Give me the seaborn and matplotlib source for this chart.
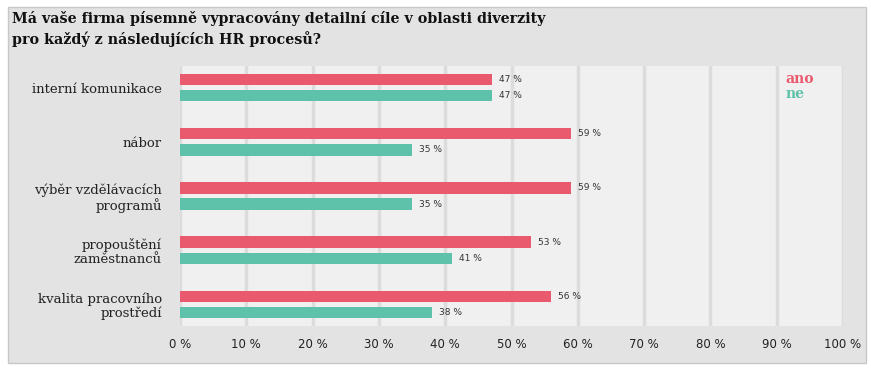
import numpy as np
import pandas as pd
import seaborn as sns
import matplotlib.pyplot as plt
from matplotlib.patches import Rectangle

categories = ["interní komunikace", "nábor", "výběr vzdělávacích\nprogramů",
              "propouštění\nzaměstnanců", "kvalita pracovního\nprostředí"]
ano = [47, 59, 59, 53, 56]
ne = [47, 35, 35, 41, 38]
series = ["ano", "ne"]
colors = ["#ea5a6e", "#5dc2a9"]
ticks = [0, 10, 20, 30, 40, 50, 60, 70, 80, 90, 100]

df = pd.DataFrame({
    "kategorie": categories * 2,
    "odpoved": ["ano"] * len(ano) + ["ne"] * len(ne),
    "hodnota": ano + ne,
})

sns.set_style("white")
plt.rcParams["font.family"] = ["DejaVu Sans"]

fig = plt.figure(figsize=(8.71, 3.71), dpi=100)
fig.patch.set_facecolor("white")
# gray panel behind everything
panel = Rectangle((8 / 871, 1 - 363 / 371), 858 / 871, 356 / 371,
                  transform=fig.transFigure, facecolor="#e3e3e3",
                  edgecolor="#c8c8c8", linewidth=1)
panel.set_zorder(-10)
fig.add_artist(panel)

ax = fig.add_axes([180 / 871, 1 - 326 / 371, 663 / 871, 260 / 371])
ax.set_zorder(5)
ax.set_facecolor("#f0f0f0")

sns.barplot(data=df, y="kategorie", x="hodnota", hue="odpoved", orient="h",
            palette=colors, width=0.6, gap=0.3, ax=ax, legend=False,
            saturation=1, errorbar=None, linewidth=0)

for c in ax.containers:
    ax.bar_label(c, labels=[f"{v:.0f} %" for v in c.datavalues], padding=5,
                 fontsize=6.5, color="#333333")

ax.set_xlim(0, 100)
ax.set_ylim(4.4, -0.4)
ax.set_xticks(ticks)
ax.set_xticklabels([f"{t} %" for t in ticks], fontsize=8.5, color="#222222")
ax.tick_params(axis="x", length=0, pad=9)
ax.tick_params(axis="y", length=0, pad=13)
ax.set_yticks(range(len(categories)))
ax.set_yticklabels(categories, fontsize=9.5, family="DejaVu Serif",
                   color="#222222", ha="right", linespacing=1.1)
ax.xaxis.grid(True, color="#dcdcdc", linewidth=2.5)
ax.set_axisbelow(True)
ax.set_xlabel("")
ax.set_ylabel("")
for s in ax.spines.values():
    s.set_visible(False)

ax.text(0.913, 0.935, "ano", transform=ax.transAxes, color=colors[0],
        fontsize=10, fontweight="bold", family="DejaVu Serif")
ax.text(0.913, 0.875, "ne", transform=ax.transAxes, color=colors[1],
        fontsize=10, fontweight="bold", family="DejaVu Serif")

fig.text(12 / 871, 1 - 29 / 371,
         "Má vaše firma písemně vypracovány detailní cíle v oblasti diverzity\npro každý z následujících HR procesů?",
         fontsize=10.3, fontweight="bold", family="DejaVu Serif", color="#111111",
         va="center", ha="left", linespacing=1.4)

fig.savefig("out.png", dpi=100)
